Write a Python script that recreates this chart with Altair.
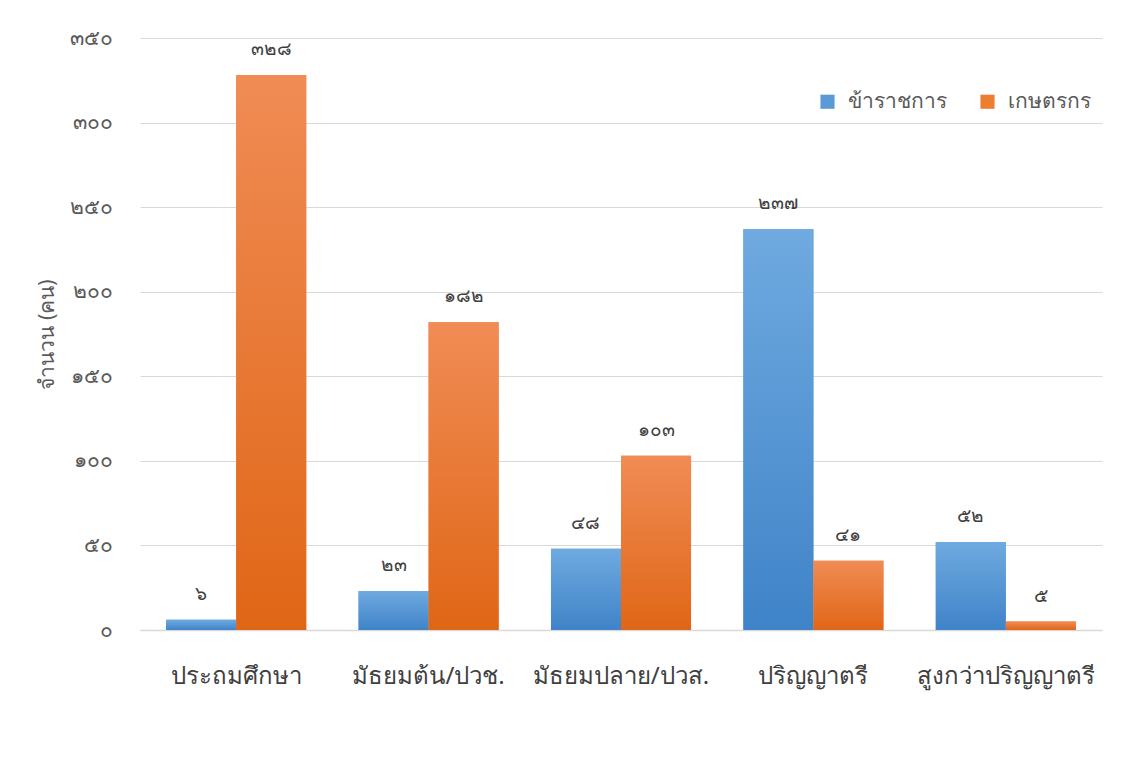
import altair as alt
import pandas as pd

categories = ["ประถมศึกษา", "มัธยมต้น/ปวช.", "มัธยมปลาย/ปวส.", "ปริญญาตรี", "สูงกว่าปริญญาตรี"]
series = ["ข้าราชการ", "เกษตรกร"]
officials = [6, 23, 48, 237, 52]
farmers = [328, 182, 103, 41, 5]
y_ticks = [0, 50, 100, 150, 200, 250, 300, 350]

TH = str.maketrans("0123456789", "๐๑๒๓๔๕๖๗๘๙")
def thai(n):
    return str(n).translate(TH)

rows = []
for c, a, b in zip(categories, officials, farmers):
    rows.append({"cat": c, "series": series[0], "value": a, "label": thai(a)})
    rows.append({"cat": c, "series": series[1], "value": b, "label": thai(b)})
df = pd.DataFrame(rows)

expr = "''"
for t in reversed(y_ticks):
    expr = f"datum.value == {t} ? '{thai(t)}' : ({expr})"

FONT = "Tahoma, Noto Sans, DejaVu Sans, sans-serif"

x = alt.X("cat:N", sort=categories, title=None,
          scale=alt.Scale(paddingInner=0.272, paddingOuter=0.136),
          axis=alt.Axis(labelAngle=0, labelFontSize=24, labelColor="#404040",
                        labelFont=FONT, labelPadding=34, ticks=False, grid=False,
                        labelLimit=300, labelOverlap=False,
                        domainColor="#d9d9d9", domainWidth=1.5))
xo = alt.XOffset("series:N", sort=series, scale=alt.Scale(paddingInner=0, paddingOuter=0))
y = alt.Y("value:Q", title="จำนวน (คน)",
          scale=alt.Scale(domain=[0, 350], nice=False),
          axis=alt.Axis(values=y_ticks, labelExpr=expr, labelFontSize=21,
                        labelColor="#595959", labelFont=FONT, labelPadding=28,
                        ticks=False, domain=False, gridColor="#d9d9d9",
                        titleFontSize=21, titleColor="#595959", titleFont=FONT,
                        titleFontWeight="normal", titleX=-93, titleY=296,
                        titleAlign="center", titleBaseline="middle"))

color = alt.Color("series:N", sort=series, title=None,
                  scale=alt.Scale(domain=series, range=["#5B9BD5", "#ED7D31"]),
                  legend=alt.Legend(orient="none", legendX=677, legendY=53,
                                    direction="horizontal", symbolType="square",
                                    symbolSize=200, symbolStrokeWidth=0,
                                    labelFontSize=21, labelColor="#595959",
                                    labelFont=FONT, labelOffset=10, columnPadding=30))

base = alt.Chart(df)

bars = base.mark_bar().encode(x=x, xOffset=xo, y=y, color=color)

def grad(top, bottom):
    return alt.LinearGradient(gradient="linear",
                              stops=[alt.GradientStop(color=top, offset=0),
                                     alt.GradientStop(color=bottom, offset=1)],
                              x1=0, x2=0, y1=0, y2=1)

blue = base.transform_filter(alt.datum.series == series[0]).mark_bar(
    fill=grad("#6FAAE0", "#3F83C8")).encode(x=x, xOffset=xo, y=y)
orange = base.transform_filter(alt.datum.series == series[1]).mark_bar(
    fill=grad("#F08C55", "#E06616")).encode(x=x, xOffset=xo, y=y)

labels = base.mark_text(baseline="bottom", dy=-16, fontSize=19, color="#404040",
                        font=FONT).encode(x=x, xOffset=xo, y=y, text="label:N")

chart = alt.layer(bars, blue, orange, labels).properties(
    width=962, height=592,
    view=alt.ViewBackground(strokeWidth=0, stroke="transparent"),
    autosize=alt.AutoSizeParams(type="none"),
    padding={"left": 132, "top": 30, "right": 14, "bottom": 125},
).configure_view(strokeWidth=0, stroke="transparent").configure(background="white")

chart.save("out.html", embed_options={"renderer": "svg", "actions": False})
